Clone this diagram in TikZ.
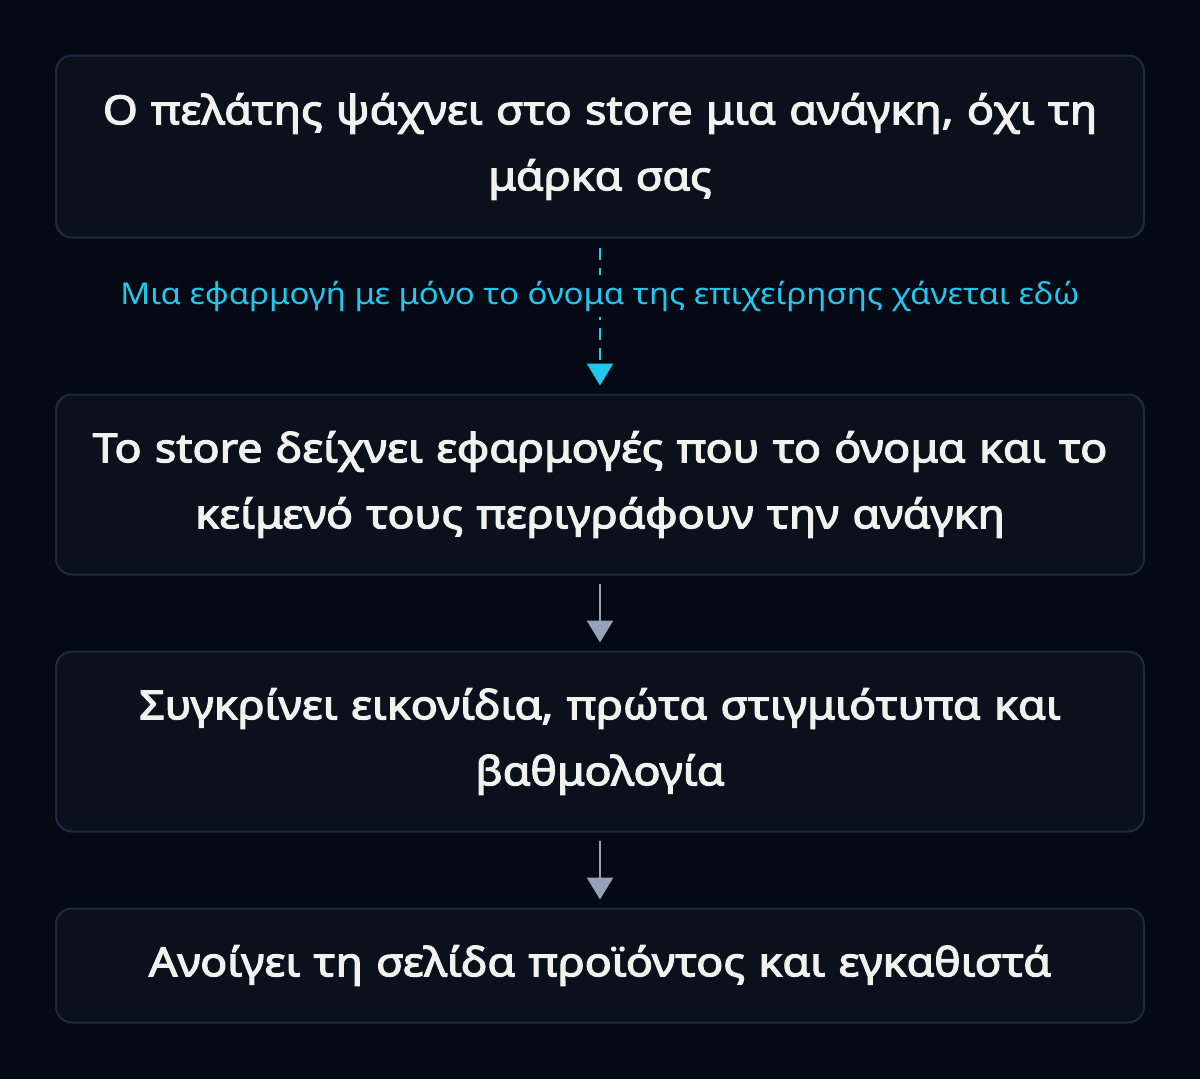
\documentclass[tikz,border=0pt]{standalone}
\usepackage{fontspec}
\setmainfont{Noto Sans}[FakeStretch=1.1]
\newfontfamily\boxfont{Noto Sans}[FakeStretch=1.12, FakeBold=3]
\usetikzlibrary{arrows.meta}
\definecolor{bg}{HTML}{050914}
\definecolor{boxfill}{HTML}{0A101C}
\definecolor{boxline}{HTML}{1E2A42}
\definecolor{txt}{HTML}{F1F1EE}
\definecolor{cyanc}{HTML}{22C7EE}
\definecolor{grayarrow}{HTML}{94A3B8}
\tikzset{
  flowbox/.style={draw=boxline, line width=2pt, fill=boxfill, rounded corners=16pt,
    minimum width=1088pt, text width=1060pt, align=center, text=txt,
    font=\boxfont\fontsize{40}{66}\selectfont, inner sep=0pt},
  solidarrow/.style={draw=grayarrow, line width=2.5pt, -{Triangle[width=26pt,length=22pt]}},
  dasharrow/.style={draw=cyanc, line width=2.5pt, dash pattern=on 12pt off 8pt, -{Triangle[width=26pt,length=22pt]}},
  lbl/.style={text=cyanc, fill=bg, font=\fontsize{30}{36}\selectfont, inner sep=6pt}
}
\begin{document}
\begin{tikzpicture}[x=1pt,y=-1pt]
\fill[bg] (0,0) rectangle (1200,1079);
\useasboundingbox (0,0) rectangle (1200,1079);
\node[flowbox, minimum height=182pt] (b1) at (600,146.5) {Ο πελάτης ψάχνει στο store μια ανάγκη, όχι τη\\ μάρκα σας};
\node[flowbox, minimum height=180pt] (b2) at (600,484.5) {Το store δείχνει εφαρμογές που το όνομα και το\\ κείμενό τους περιγράφουν την ανάγκη};
\node[flowbox, minimum height=180pt] (b3) at (600,741.5) {Συγκρίνει εικονίδια, πρώτα στιγμιότυπα και\\ βαθμολογία};
\node[flowbox, minimum height=114pt] (b4) at (600,965.5) {Ανοίγει τη σελίδα προϊόντος και εγκαθιστά};
\draw[dasharrow, shorten <=9pt, shorten >=8pt] (b1.south) -- (b2.north);
\node[lbl] (l1) at (600,296) {Μια εφαρμογή με μόνο το όνομα της επιχείρησης χάνεται εδώ};
\draw[solidarrow, shorten <=8pt, shorten >=8pt] (b2.south) -- (b3.north);
\draw[solidarrow, shorten <=8pt, shorten >=8pt] (b3.south) -- (b4.north);
\end{tikzpicture}
\end{document}
